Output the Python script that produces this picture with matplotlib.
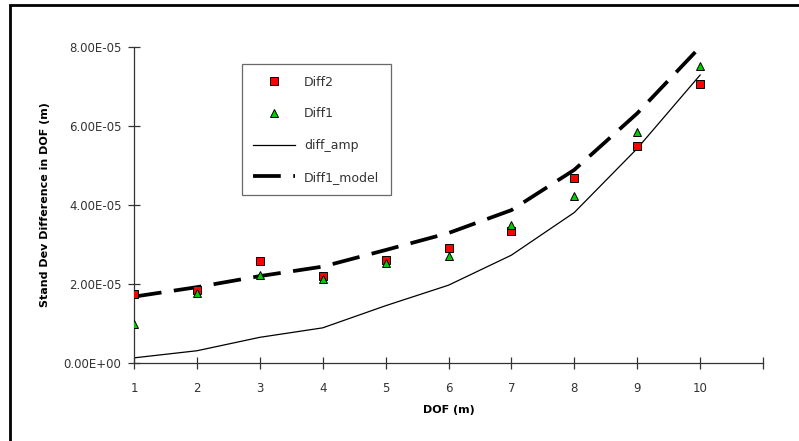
import numpy as np
import matplotlib
matplotlib.use("Agg")
import matplotlib.pyplot as plt
from matplotlib.patches import Rectangle

# values
dof = [1, 2, 3, 4, 5, 6, 7, 8, 9, 10]
diff2 = [1.75e-5, 1.85e-5, 2.58e-5, 2.21e-5, 2.60e-5, 2.92e-5, 3.34e-5, 4.68e-5, 5.49e-5, 7.06e-5]
diff1 = [0.99e-5, 1.76e-5, 2.23e-5, 2.12e-5, 2.52e-5, 2.72e-5, 3.49e-5, 4.23e-5, 5.85e-5, 7.51e-5]
diff_amp = [0.13e-5, 0.31e-5, 0.65e-5, 0.89e-5, 1.45e-5, 1.97e-5, 2.73e-5, 3.81e-5, 5.43e-5, 7.29e-5]
diff1_model = [1.68e-5, 1.92e-5, 2.20e-5, 2.44e-5, 2.86e-5, 3.29e-5, 3.87e-5, 4.89e-5, 6.32e-5, 8.00e-5]

y_ticks = [0, 2e-5, 4e-5, 6e-5, 8e-5]
y_tick_labels = ["0.00E+00", "2.00E-05", "4.00E-05", "6.00E-05", "8.00E-05"]

plt.rcParams['font.family'] = ['DejaVu Sans']
plt.rcParams['lines.scale_dashes'] = False

fig = plt.figure(figsize=(7.99, 4.41), dpi=100)
fig.patch.set_facecolor('white')

# outer frame (cut off at right and bottom like the reference)
fig.patches.append(Rectangle((10 / 799, -0.2), 1.2, 1.2 - 5 / 441,
                             transform=fig.transFigure, fill=False,
                             edgecolor='black', linewidth=2, zorder=0))

ax = fig.add_axes([134 / 799, 1 - 363 / 441, (763 - 134) / 799, (363 - 47) / 441])

ax.plot(dof, diff1_model, color='black', linewidth=2.7, dashes=(20, 9),
        label='Diff1_model', zorder=2)
ax.plot(dof, diff_amp, color='black', linewidth=0.9, label='diff_amp', zorder=2)
ax.plot(dof, diff2, linestyle='none', marker='s', markersize=5.5,
        markerfacecolor='#ff0000', markeredgecolor='black', markeredgewidth=0.7,
        label='Diff2', zorder=3)
ax.plot(dof, diff1, linestyle='none', marker='^', markersize=5.5,
        markerfacecolor='#00cc00', markeredgecolor='black', markeredgewidth=0.7,
        label='Diff1', zorder=3)

ax.set_xlim(1, 11)
ax.set_ylim(0, 8e-5)
ax.set_xticks(range(1, 12))
ax.set_xticklabels([str(i) for i in range(1, 11)] + [""])
ax.set_yticks(y_ticks)
ax.set_yticklabels(y_tick_labels)

for side in ['top', 'right']:
    ax.spines[side].set_visible(False)
for side in ['left', 'bottom']:
    ax.spines[side].set_color('#333333')
    ax.spines[side].set_linewidth(0.9)

ax.tick_params(direction='inout', length=8, width=0.9, color='#333333',
               labelsize=8.5, labelcolor='#333333', pad=5)
ax.tick_params(axis='x', pad=10)

ax.set_xlabel('DOF (m)', fontsize=8, fontweight='bold', labelpad=7)
ax.set_ylabel('Stand Dev Difference in DOF (m)', fontsize=8, fontweight='bold', labelpad=10)

handles, labels = ax.get_legend_handles_labels()
order = [labels.index(n) for n in ['Diff2', 'Diff1', 'diff_amp', 'Diff1_model']]
leg = ax.legend([handles[i] for i in order], [labels[i] for i in order],
                loc='upper left', bbox_to_anchor=((241.7 - 134) / 629, (363 - 64.3) / 316),
                borderaxespad=0, fontsize=9, frameon=True, fancybox=False,
                handlelength=3.4, handletextpad=0.7, labelspacing=1.5,
                borderpad=0.9, edgecolor='#444444')
leg.get_frame().set_linewidth(0.9)
for t in leg.get_texts():
    t.set_color('#333333')

fig.savefig('out.png', dpi=100, facecolor='white')
